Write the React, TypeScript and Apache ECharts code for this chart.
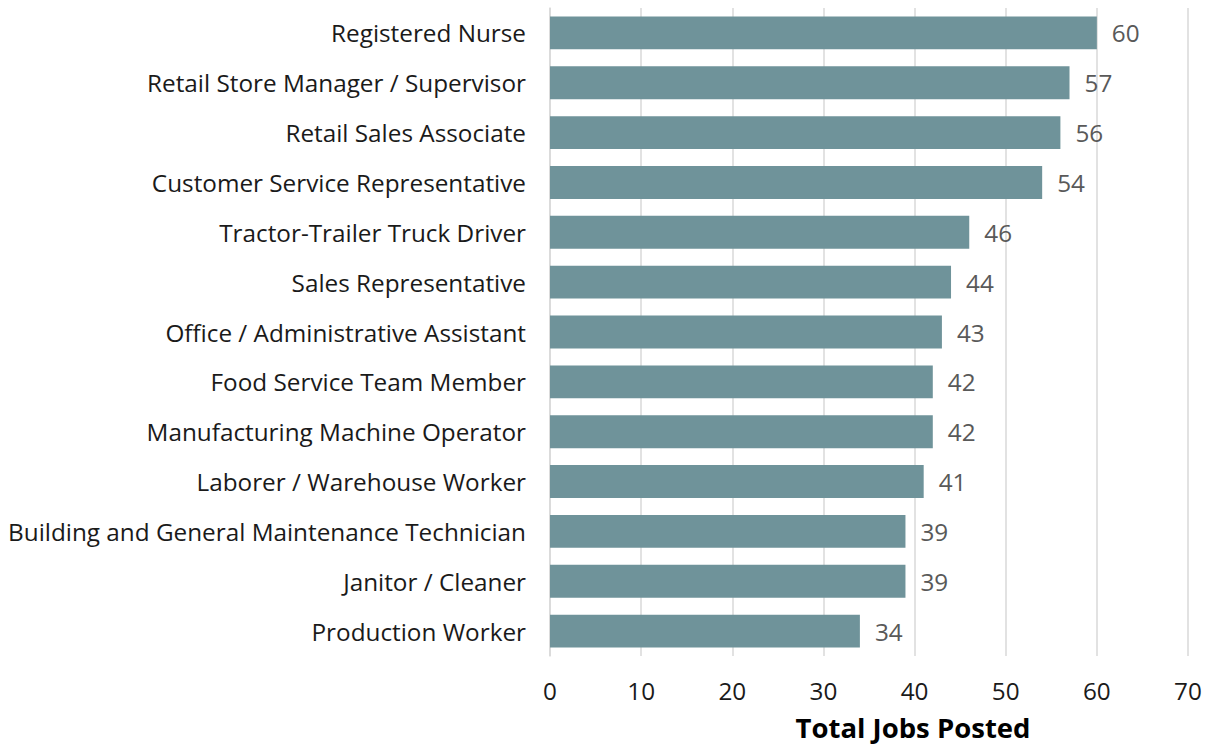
import React, { useEffect, useRef } from "react";
import * as echarts from "echarts";

const categories = [
  "Registered Nurse",
  "Retail Store Manager / Supervisor",
  "Retail Sales Associate",
  "Customer Service Representative",
  "Tractor-Trailer Truck Driver",
  "Sales Representative",
  "Office / Administrative Assistant",
  "Food Service Team Member",
  "Manufacturing Machine Operator",
  "Laborer / Warehouse Worker",
  "Building and General Maintenance Technician",
  "Janitor / Cleaner",
  "Production Worker",
];
const values = [60, 57, 56, 54, 46, 44, 43, 42, 42, 41, 39, 39, 34];
const axisTitle = "Total Jobs Posted";

export default function App() {
  const ref = useRef<HTMLDivElement>(null);
  useEffect(() => {
    const chart = echarts.init(ref.current!, null, { renderer: "svg" });
    const font = "'Open Sans', sans-serif";
    chart.setOption({
      animation: false,
      grid: { left: 550, right: 23, top: 8, height: 653, containLabel: false },
      xAxis: {
        type: "value",
        min: 0,
        max: 70,
        interval: 10,
        name: axisTitle,
        nameLocation: "middle",
        nameGap: 57,
        nameTextStyle: {
          fontFamily: font,
          fontSize: 27.5,
          fontWeight: "bold",
          color: "#000",
          padding: [0, 0, 0, 88],
        },
        axisLabel: { fontFamily: font, fontSize: 24.3, color: "#1a1a1a", margin: 22 },
        axisLine: { show: false },
        axisTick: { show: false },
        splitLine: { show: true, lineStyle: { color: "#d9d9d9", width: 1.5 } },
      },
      yAxis: {
        type: "category",
        data: categories,
        inverse: true,
        axisLabel: { fontFamily: font, fontSize: 24.3, color: "#1a1a1a", margin: 24 },
        axisLine: { show: true, lineStyle: { color: "#d9d9d9", width: 1.5 } },
        axisTick: { show: false },
      },
      series: [
        {
          type: "bar",
          data: values,
          barWidth: "66%",
          itemStyle: { color: "#6f939a" },
          label: {
            show: true,
            position: "right",
            distance: 15,
            fontFamily: font,
            fontSize: 24.3,
            color: "#595959",
          },
        },
      ],
    });
    return () => chart.dispose();
  }, []);
  return <div ref={ref} style={{ width: 1211, height: 746, position: "absolute", left: 0, top: 0 }} />;
}
